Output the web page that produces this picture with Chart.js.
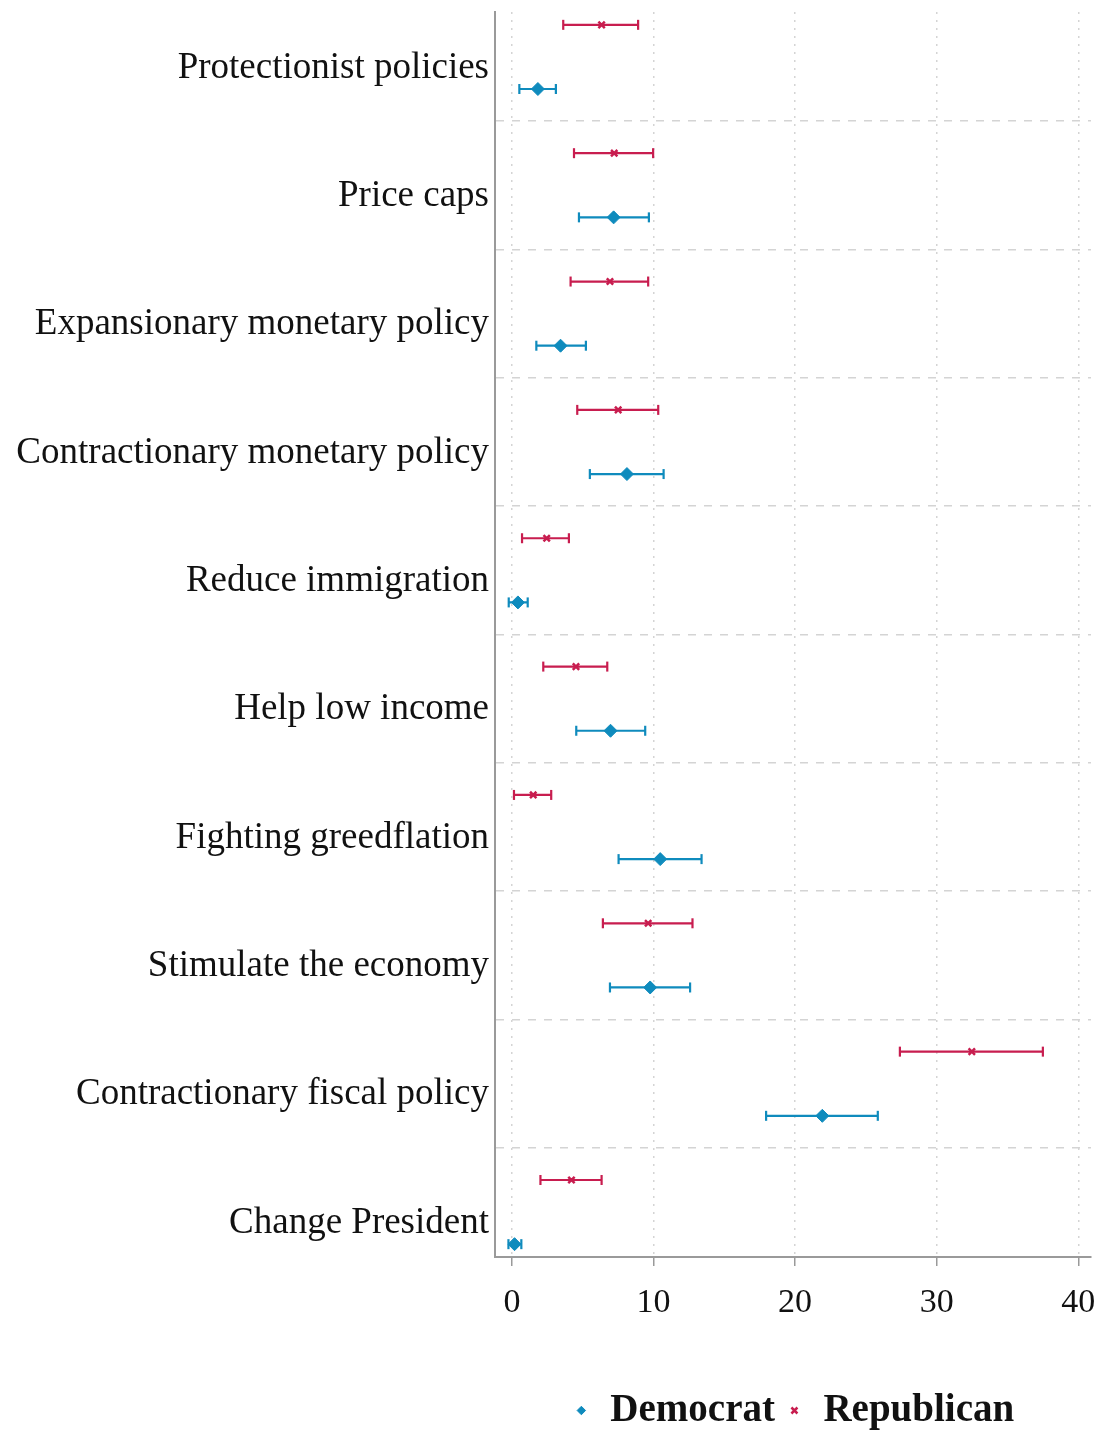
<!DOCTYPE html>
<html>
<head>
<meta charset="utf-8">
<script src="https://cdn.jsdelivr.net/npm/chart.js@4"></script>
<style>
  html, body { margin:0; padding:0; background:#fff; }
  #wrap { width:1100px; height:1430px; }
</style>
</head>
<body>
<div id="wrap"><canvas id="coefChart" width="1100" height="1430"></canvas></div>
<script>
// categories top to bottom
const categories = [
  'Protectionist policies',
  'Price caps',
  'Expansionary monetary policy',
  'Contractionary monetary policy',
  'Reduce immigration',
  'Help low income',
  'Fighting greedflation',
  'Stimulate the economy',
  'Contractionary fiscal policy',
  'Change President'
]

// Democrat estimates + 95% CI
const demEst = [1.83, 7.18, 3.43, 8.12, 0.42, 6.96, 10.47, 9.76, 21.92, 0.18]
const demLo  = [0.52, 4.73, 1.72, 5.50, -0.23, 4.54, 7.53, 6.92, 17.95, -0.25]
const demHi  = [3.10, 9.67, 5.22, 10.71, 1.11, 9.41, 13.39, 12.58, 25.84, 0.66]

// Republican estimates + 95% CI
const repEst = [6.33, 7.22, 6.92, 7.50, 2.45, 4.52, 1.50, 9.62, 32.48, 4.20]
const repLo  = [3.62, 4.38, 4.14, 4.61, 0.71, 2.21, 0.14, 6.42, 27.40, 2.01]
const repHi  = [8.91, 9.97, 9.62, 10.33, 4.02, 6.73, 2.77, 12.75, 37.50, 6.33]

const xTicks = [0, 10, 20, 30, 40]

const BLUE = '#0f8bbd'
const RED = '#c81d4f'
const FONT = "'Liberation Serif', 'DejaVu Serif', serif"

// row position: category i sits at i+1, Republican above, Democrat below
const repPos = i => i + 1 - 0.25
const demPos = i => i + 1 + 0.25

function whiskers(lo, hi, pos){
  const pts = []
  lo.forEach((v, i) => {
    pts.push({x: v, y: pos(i)})
    pts.push({x: hi[i], y: pos(i)})
    pts.push({x: hi[i], y: null})
  })
  return pts
}
function caps(lo, hi, pos){
  const pts = []
  lo.forEach((v, i) => {
    pts.push({x: v, y: pos(i)})
    pts.push({x: hi[i], y: pos(i)})
  })
  return pts
}
const points = (est, pos) => est.map((v, i) => ({x: v, y: pos(i)}))

const yTicks = []
for (let v = 1; v <= categories.length; v += 0.5) yTicks.push(v)

const ctx = document.getElementById('coefChart').getContext('2d')
new Chart(ctx, {
  type: 'scatter',
  data: {
    datasets: [
      {
        label: 'Democrat',
        data: points(demEst, demPos),
        pointStyle: 'rectRot',
        pointRadius: 6.5,
        backgroundColor: BLUE,
        borderColor: BLUE,
        borderWidth: 1,
        order: 0
      },
      {
        label: 'Republican',
        data: points(repEst, repPos),
        pointStyle: 'crossRot',
        pointRadius: 4.5,
        backgroundColor: RED,
        borderColor: RED,
        borderWidth: 2.5,
        order: 0
      },
      {
        label: 'demCI',
        type: 'line',
        data: whiskers(demLo, demHi, demPos),
        borderColor: BLUE,
        borderWidth: 2.2,
        pointRadius: 0,
        spanGaps: false,
        order: 2
      },
      {
        label: 'repCI',
        type: 'line',
        data: whiskers(repLo, repHi, repPos),
        borderColor: RED,
        borderWidth: 2.2,
        pointRadius: 0,
        spanGaps: false,
        order: 2
      },
      {
        label: 'demCap',
        data: caps(demLo, demHi, demPos),
        pointStyle: 'line',
        rotation: 90,
        pointRadius: 5,
        borderColor: BLUE,
        borderWidth: 2.2,
        order: 1
      },
      {
        label: 'repCap',
        data: caps(repLo, repHi, repPos),
        pointStyle: 'line',
        rotation: 90,
        pointRadius: 5,
        borderColor: RED,
        borderWidth: 2.2,
        order: 1
      }
    ]
  },
  options: {
    responsive: false,
    devicePixelRatio: 1,
    animation: false,
    events: [],
    layout: { padding: { top: 12, right: 9, bottom: -10, left: 0 } },
    scales: {
      x: {
        type: 'linear',
        min: -1.2,
        max: 40.9,
        afterBuildTicks: scale => { scale.ticks = xTicks.map(v => ({value: v})) },
        afterFit: scale => {
          scale.height = 124
          scale.paddingLeft = 0
          scale.paddingRight = 0
        },
        grid: {
          color: '#d4d4d4',
          lineWidth: 1.5,
          drawTicks: true,
          tickLength: 9,
          tickColor: '#9a9a9a',
          tickWidth: 1.5,
          tickBorderDash: []
        },
        border: { display: true, color: '#9a9a9a', width: 2, dash: [2, 6] },
        ticks: {
          color: '#111',
          padding: 17,
          font: { family: FONT, size: 34 },
          maxRotation: 0
        }
      },
      y: {
        type: 'linear',
        reverse: true,
        min: 0.65,
        max: 10.35,
        afterBuildTicks: scale => { scale.ticks = yTicks.map(v => ({value: v})) },
        afterFit: scale => {
          scale.width = 495
          scale.paddingTop = 0
          scale.paddingBottom = 0
        },
        grid: {
          color: c => (c.tick && Number.isInteger(c.tick.value)) ? 'rgba(0,0,0,0)' : '#d4d4d4',
          lineWidth: 1.5,
          drawTicks: false
        },
        border: { display: true, color: '#9a9a9a', width: 2, dash: [8, 8] },
        ticks: {
          autoSkip: false,
          color: '#111',
          padding: 6,
          labelOffset: 11,
          font: { family: FONT, size: 37 },
          callback: v => Number.isInteger(v) ? categories[v - 1] : ''
        }
      }
    },
    plugins: {
      tooltip: { enabled: false },
      legend: {
        position: 'bottom',
        fullSize: false,
        labels: {
          usePointStyle: true,
          boxHeight: 6,
          boxWidth: 19,
          padding: 10,
          color: '#111',
          font: { family: FONT, size: 39, weight: 'bold', lineHeight: 1 },
          filter: item => item.text === 'Democrat' || item.text === 'Republican'
        }
      }
    }
  }
})
</script>
</body>
</html>
